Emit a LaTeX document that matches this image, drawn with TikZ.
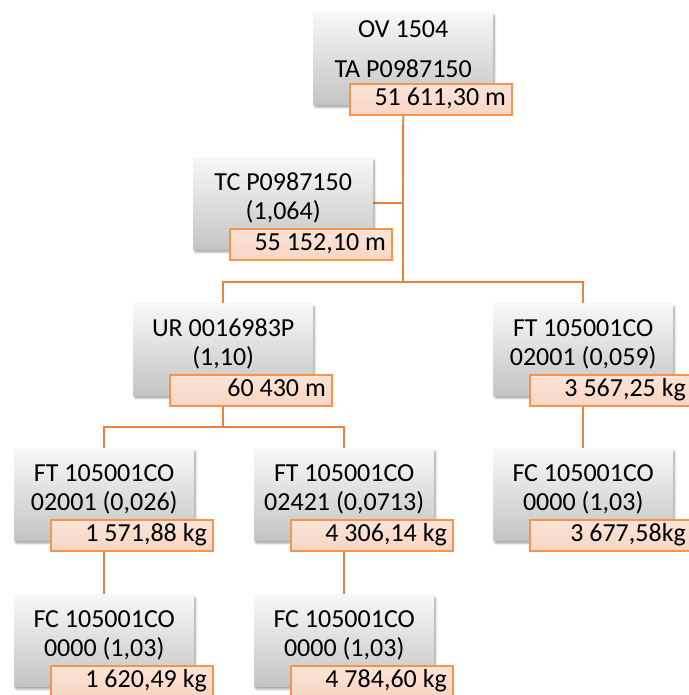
\documentclass[tikz,border=0pt]{standalone}
\usepackage{fontspec}
\setmainfont{Carlito}
\usetikzlibrary{calc,backgrounds,shadows.blur}
\definecolor{linkor}{HTML}{E8823C}
\definecolor{labedge}{HTML}{F7934A}
\definecolor{labtop}{HTML}{FBE4D8}
\definecolor{labbot}{HTML}{F8D5C3}
\definecolor{boxtop}{HTML}{F8F8F8}
\definecolor{boxbot}{HTML}{C4C4C4}
\tikzset{
  gbox/.style={anchor=north west, minimum width=180pt, minimum height=92pt,
    inner sep=0pt, top color=boxtop, bottom color=boxbot, draw=none,
    blur shadow={shadow xshift=1.5pt, shadow yshift=-3pt, shadow blur steps=6,
      shadow blur extra rounding=1pt, shadow opacity=35}},
  txt/.style={anchor=base, inner sep=0pt, font=\fontsize{26}{30}\selectfont, text=black},
  lab/.style={anchor=north west, draw=labedge, line width=1.6pt,
    top color=labtop, bottom color=labbot,
    minimum width=162pt, minimum height=31pt, text width=150pt, align=flush right,
    inner xsep=6pt, inner ysep=4pt, text height=18pt, text depth=5pt,
    font=\fontsize{26}{30}\selectfont, text=black},
  link/.style={draw=linkor, line width=1.8pt}
}
% box with two centred lines and a value tag at its lower right
\newcommand\treebox[6]{%
  \node[gbox] (#1) at (#2,#3) {};
  \node[txt] (#1-a) at ($(#1.north)+(0,33)$) {#4};
  \node[txt] (#1-b) at ($(#1.north)+(0,62)$) {#5};
  \node[lab] (#1-v) at ($(#1.north west)+(36,71)$) {#6};
}
\begin{document}
\begin{tikzpicture}[x=1pt,y=-1pt]
\useasboundingbox (0,0) rectangle (688,695);

% root
\node[gbox] (ov) at (313,12) {};
\node[txt] (ov-a) at ($(ov.north)+(0,26)$) {OV 1504};
\node[txt] (ov-b) at ($(ov.north)+(0,66)$) {TA P0987150};
\node[lab] (ov-v) at ($(ov.north west)+(36,71)$) {51 611,30 m};

\treebox{tc}{193}{157}{TC P0987150}{(1,064)}{55 152,10 m}
\treebox{ur}{133}{303}{UR 0016983P}{(1,10)}{60 430 m}
\treebox{ftr}{493}{303}{FT 105001CO}{02001 (0,059)}{3 567,25 kg}
\treebox{ftl}{14}{448}{FT 105001CO}{02001 (0,026)}{1 571,88 kg}
\treebox{ftm}{254}{448}{FT 105001CO}{02421 (0,0713)}{4 306,14 kg}
\treebox{fcr}{493}{448}{FC 105001CO}{0000 (1,03)}{3 677,58kg}
\treebox{fcl}{14}{594}{FC 105001CO}{0000 (1,03)}{1 620,49 kg}
\treebox{fcm}{254}{594}{FC 105001CO}{0000 (1,03)}{4 784,60 kg}

\coordinate (j1) at (403,282);
\coordinate (j2) at (223,427);

\begin{pgfonlayer}{background}
  \draw[link] (ov.center) -- (j1);
  \draw[link] (tc.east) -- (tc.east -| ov.center);
  \draw[link] (ur.north) |- (j1) -| (ftr.north);
  \draw[link] (ur.center) -- (j2);
  \draw[link] (ftl.north) |- (j2) -| (ftm.north);
  \draw[link] (ftl.center) -- (fcl.north);
  \draw[link] (ftm.center) -- (fcm.north);
  \draw[link] (ftr.center) -- (fcr.north);
\end{pgfonlayer}
\end{tikzpicture}
\end{document}
